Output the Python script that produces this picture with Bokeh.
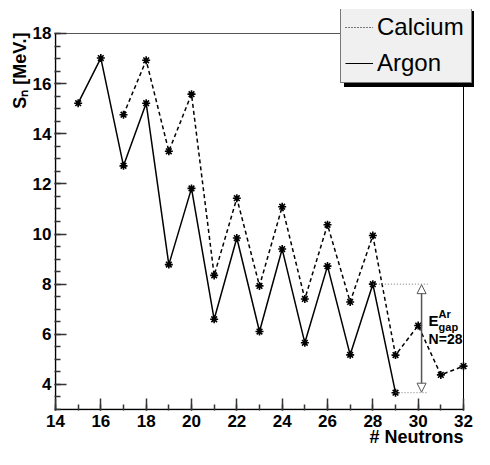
from bokeh.plotting import figure
from bokeh.models import (FixedTicker, Legend, LegendItem, Label, Arrow, NormalHead,
                          Range1d, ColumnDataSource, Title)
from bokeh.embed import file_html
from bokeh.resources import INLINE

# ---- data ----
argon_n = [15, 16, 17, 18, 19, 20, 21, 22, 23, 24, 25, 26, 27, 28, 29]
argon_sn = [15.22, 17.02, 12.72, 15.22, 8.78, 11.82, 6.60, 9.84, 6.11, 9.40, 5.66, 8.72, 5.18, 8.00, 3.67]
calcium_n = [17, 18, 19, 20, 21, 22, 23, 24, 25, 26, 27, 28, 29, 30, 31, 32]
calcium_sn = [14.76, 16.93, 13.30, 15.58, 8.35, 11.43, 7.93, 11.09, 7.41, 10.37, 7.29, 9.94, 5.17, 6.35, 4.38, 4.73]
x_major = [14, 16, 18, 20, 22, 24, 26, 28, 30, 32]
x_minor = list(range(14, 33))
y_major = [4, 6, 8, 10, 12, 14, 16, 18]
y_minor = [3 + 0.5 * i for i in range(31)]
x_lo, x_hi = 14, 32          # axis extent
y_lo, y_hi = 3, 18
gap_n = 28

FONT = "Liberation Sans"

# the frame is a little larger than the axes' extent so that the legend box
# (which overlaps the top-right corner in the original) is not clipped
p = figure(width=474, height=449, output_backend="svg", toolbar_location=None,
           x_range=Range1d(13.956, 32.485), y_range=Range1d(2.960, 18.957),
           min_border_left=54, min_border_right=0, min_border_top=9, min_border_bottom=39)
p.grid.visible = False
p.outline_line_color = None
p.background_fill_color = "white"
p.border_fill_color = "white"

for ax, maj, mnr in ((p.xaxis[0], x_major, x_minor), (p.yaxis[0], y_major, y_minor)):
    ax.ticker = FixedTicker(ticks=maj, minor_ticks=mnr)
    ax.major_tick_in = 12
    ax.major_tick_out = 0
    ax.minor_tick_in = 6
    ax.minor_tick_out = 0
    ax.axis_line_color = None
    ax.major_tick_line_color = "#333333"
    ax.minor_tick_line_color = "#333333"
    ax.major_tick_line_width = 1.5
    ax.minor_tick_line_width = 1.5
    ax.major_label_text_font = FONT
    ax.major_label_text_font_style = "bold"
    ax.major_label_text_font_size = "17px"
    ax.major_label_text_color = "black"
p.yaxis[0].major_label_standoff = 3
p.xaxis[0].major_label_standoff = 4

# ---- axis titles (side-panel titles, aligned to the axis end) ----
p.add_layout(Title(text="Sₙ [MeV.]", align="right", vertical_align="bottom", standoff=0, offset=23,
                   text_font=FONT, text_font_style="bold", text_font_size="18px",
                   text_color="black"), "left")
p.add_layout(Title(text="# Neutrons", align="right", vertical_align="top", standoff=-6, offset=11,
                   text_font=FONT, text_font_style="bold", text_font_size="18px",
                   text_color="black"), "below")

# ---- axis lines and frame ----
p.segment(x0=[x_lo, x_lo], y0=[y_lo, y_lo], x1=[x_lo, x_hi], y1=[y_hi, y_lo],
          line_color="black", line_width=1.5)
p.segment(x0=[x_lo], y0=[y_hi], x1=[x_hi], y1=[y_hi], line_color="#555555", line_width=1)
p.segment(x0=[x_hi], y0=[y_lo], x1=[x_hi], y1=[y_hi], line_color="black", line_width=1)

# ---- data lines ----
ca = ColumnDataSource(dict(x=calcium_n, y=calcium_sn))
ar = ColumnDataSource(dict(x=argon_n, y=argon_sn))
p.line("x", "y", source=ca, line_color="black", line_width=1.5, line_dash="4 3")
p.line("x", "y", source=ar, line_color="black", line_width=1.5)
p.scatter("x", "y", source=ca, marker="asterisk", size=8, line_color="black", line_width=1.6)
p.scatter("x", "y", source=ar, marker="asterisk", size=8, line_color="black", line_width=1.6)

# ---- gap annotation ----
i28 = argon_n.index(gap_n)
top_v = argon_sn[i28]
bot_v = argon_sn[i28 + 1]
p.segment(x0=[argon_n[i28], argon_n[i28 + 1]], y0=[top_v, bot_v],
          x1=[30.42, 30.42], y1=[top_v, bot_v],
          line_color="#777777", line_width=1, line_dash="1 2")
p.add_layout(Arrow(x_start=30.15, y_start=bot_v + 0.02, x_end=30.15, y_end=top_v - 0.02,
                   line_color="#555555", line_width=1.5,
                   start=NormalHead(size=9, fill_color="white", line_color="#555555", line_width=1),
                   end=NormalHead(size=9, fill_color="white", line_color="#555555", line_width=1)))
p.add_layout(Label(x=30.46, y=6.20, text="E", text_font=FONT, text_font_style="bold",
                   text_font_size="15px", text_color="black"))
p.add_layout(Label(x=30.90, y=6.56, text="Ar", text_font=FONT, text_font_style="bold",
                   text_font_size="11px", text_color="black"))
p.add_layout(Label(x=30.90, y=6.05, text="gap", text_font=FONT, text_font_style="bold",
                   text_font_size="11px", text_color="black"))
p.add_layout(Label(x=30.46, y=5.48, text="N=28", text_font=FONT, text_font_style="bold",
                   text_font_size="14px", text_color="black"))

# ---- legend (with drop shadow); legend-only line styles via hidden renderers ----
leg_ca = p.line("x", "y", source=ca, line_color="black", line_width=1, line_dash="1 2", visible=False)
leg_ar = p.line("x", "y", source=ar, line_color="black", line_width=1, visible=False)

def make_legend(loc, bg, labels, alpha):
    return Legend(items=[LegendItem(label=labels[0], renderers=[leg_ca]),
                         LegendItem(label=labels[1], renderers=[leg_ar])],
                  location=loc, orientation="vertical",
                  background_fill_color=bg, background_fill_alpha=1,
                  border_line_color="black", border_line_width=1,
                  inactive_fill_alpha=0,
                  label_text_font=FONT, label_text_font_size="24px", label_text_color="black",
                  label_text_alpha=alpha, label_width=90,
                  glyph_width=28, glyph_height=30, label_height=30, label_standoff=4,
                  spacing=6, padding=4, margin=0)

p.add_layout(make_legend((290, 323), "black", [" ", " "], 0), "center")          # shadow
p.add_layout(make_legend((286, 327), "#f0f0f0", ["Calcium", "Argon"], 1), "center")  # box

open("out.html", "w").write(file_html(p, INLINE))
